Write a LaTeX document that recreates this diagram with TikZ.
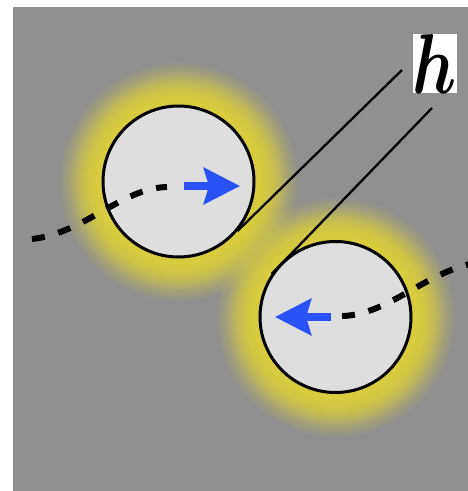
\documentclass[tikz,border=0pt]{standalone}
\usepackage{amsmath}
\usetikzlibrary{arrows.meta,fadings}
\definecolor{bgc}{RGB}{144,144,144}
\definecolor{ballc}{RGB}{222,222,222}
\definecolor{glowc}{RGB}{214,204,62}
\definecolor{arrc}{RGB}{40,82,245}
\pgfdeclareradialshading{glowshade}{\pgfpointorigin}{color(0bp)=(pgftransparent!0); color(17bp)=(pgftransparent!0); color(19bp)=(pgftransparent!10); color(21bp)=(pgftransparent!40); color(23bp)=(pgftransparent!75); color(25bp)=(pgftransparent!100); color(50bp)=(pgftransparent!100)}
\pgfdeclarefading{glowfade}{\pgfuseshading{glowshade}}
\tikzset{
  ball/.style={circle, draw=black, line width=3pt, fill=ballc, minimum size=151pt, inner sep=0pt},
  glow/.style={fill=glowc, path fading=glowfade},
  track/.style={draw=black, line width=6pt, dash pattern=on 13pt off 14pt},
  motion/.style={draw=arrc, line width=8pt, -{Stealth[length=36pt, width=36pt, inset=5pt]}},
  tang/.style={draw=black, line width=2.3pt}
}
\begin{document}
\begin{tikzpicture}[x=1pt,y=1pt]
\useasboundingbox (0,0) rectangle (468,-491);
\fill[bgc] (13,-7) rectangle (468,-491);
\begin{scope}
\clip (13,-7) rectangle (468,-491);
\fill[glow] (178.5,-181.5) circle (120);
\fill[glow] (335.5,-317) circle (120);
\node[ball] (c1) at (178.5,-181.5) {};
\node[ball] (c2) at (335.5,-317) {};
\coordinate (s1) at (32,-239);
\coordinate (e1) at (167,-187);
\coordinate (s2) at (342,-316);
\coordinate (e2) at (482,-262);
\draw[track] (s1) .. controls (85,-233) and (122,-188) .. (e1);
\draw[track] (s2) .. controls (390,-315) and (429,-268) .. (e2);
\coordinate (a1s) at (184,-186);
\coordinate (a1e) at (240,-186);
\coordinate (a2s) at (331,-317);
\coordinate (a2e) at (275,-317);
\draw[motion] (a1s) -- (a1e);
\draw[motion] (a2s) -- (a2e);
\coordinate (t1) at (402,-70);
\coordinate (t2) at (432,-108);
\draw[tang] (c1.-40) -- (t1);
\draw[tang] (c2.146) -- (t2);
\node[fill=white, inner sep=0pt] (h) at (435,-63.5) {\scalebox{6.6}[8.5]{$\boldsymbol{h}$}};
\end{scope}
\end{tikzpicture}
\end{document}
